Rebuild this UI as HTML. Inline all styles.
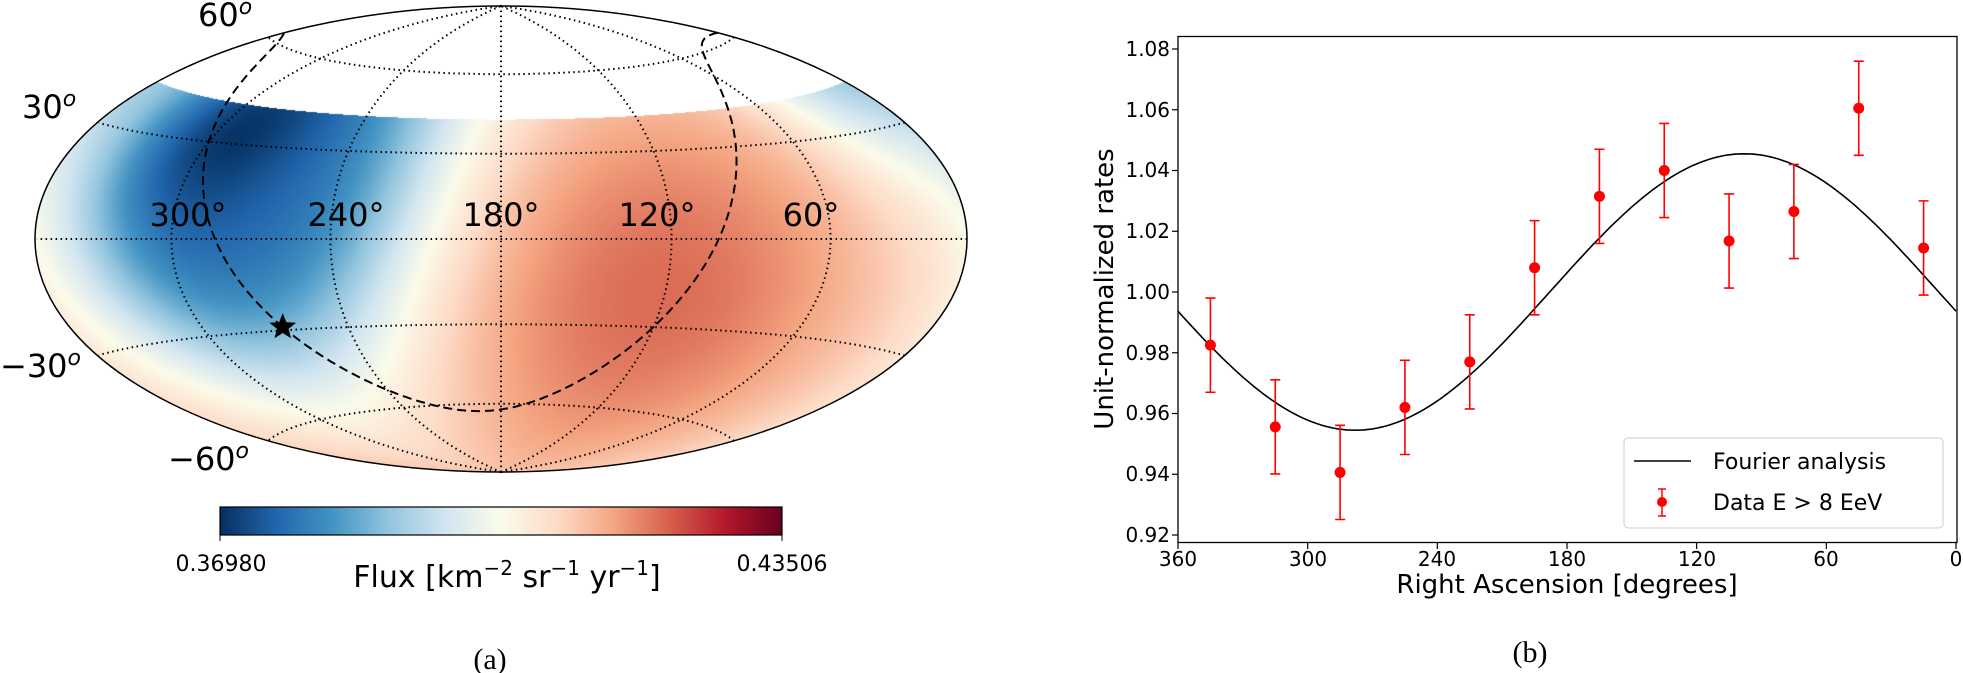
<!DOCTYPE html>
<html><head><meta charset="utf-8"><style>
html,body{margin:0;padding:0;background:#fff;}
#wrap{position:relative;width:1963px;height:673px;overflow:hidden;background:#fff;}
canvas{position:absolute;left:0;top:0;}
svg{position:absolute;left:0;top:0;}
text{font-family:"DejaVu Sans","Liberation Sans",sans-serif;fill:#000;}
</style></head><body><div id="wrap">
<canvas id="cv" width="1000" height="560"></canvas>
<svg id="sv" width="1963" height="673" xmlns="http://www.w3.org/2000/svg">
<defs>
<linearGradient id="cb" x1="0" x2="1" y1="0" y2="0">
<stop offset="0" stop-color="#053061"/><stop offset="0.1" stop-color="#2166ac"/><stop offset="0.2" stop-color="#4393c3"/><stop offset="0.3" stop-color="#92c5de"/><stop offset="0.4" stop-color="#d1e5f0"/><stop offset="0.5" stop-color="#fbfbea"/><stop offset="0.6" stop-color="#fddbc7"/><stop offset="0.7" stop-color="#f4a582"/><stop offset="0.8" stop-color="#d6604d"/><stop offset="0.9" stop-color="#b2182b"/><stop offset="1" stop-color="#67001f"/>
</linearGradient>
</defs>
<g id="mapgrid"></g>
<ellipse cx="501" cy="239" rx="466" ry="233" fill="none" stroke="#000" stroke-width="1.5"/>
<text x="188" y="226" font-size="32" text-anchor="middle">300°</text>
<text x="346" y="226" font-size="32" text-anchor="middle">240°</text>
<text x="501" y="226" font-size="32" text-anchor="middle">180°</text>
<text x="657" y="226" font-size="32" text-anchor="middle">120°</text>
<text x="811" y="226" font-size="32" text-anchor="middle">60°</text>
<text x="198" y="26" font-size="32">60<tspan font-size="22" dy="-12" font-style="italic">o</tspan></text>
<text x="22" y="118" font-size="32">30<tspan font-size="22" dy="-12" font-style="italic">o</tspan></text>
<text x="0" y="377" font-size="32">−30<tspan font-size="22" dy="-12" font-style="italic">o</tspan></text>
<text x="168" y="470" font-size="32">−60<tspan font-size="22" dy="-12" font-style="italic">o</tspan></text>
<rect x="220" y="507" width="562" height="28" fill="url(#cb)" stroke="#000" stroke-width="1.2"/>
<line x1="220" y1="535" x2="220" y2="541" stroke="#000"/><line x1="782" y1="535" x2="782" y2="541" stroke="#000"/>
<text x="221" y="571" font-size="22" text-anchor="middle">0.36980</text>
<text x="782" y="571" font-size="22" text-anchor="middle">0.43506</text>
<text x="507" y="587" font-size="30" text-anchor="middle">Flux [km<tspan font-size="20" dy="-12">−2</tspan><tspan dy="12"> sr</tspan><tspan font-size="20" dy="-12">−1</tspan><tspan dy="12"> yr</tspan><tspan font-size="20" dy="-12">−1</tspan><tspan dy="12">]</tspan></text>
<text x="490" y="669" font-size="30" text-anchor="middle" style="font-family:'Liberation Serif',serif">(a)</text>

<g id="plot"></g>
<rect x="1178" y="36.5" width="779" height="506" fill="none" stroke="#000" stroke-width="1.3"/>
<g font-size="20" text-anchor="end">
<text x="1170" y="56">1.08</text><text x="1170" y="117">1.06</text><text x="1170" y="177">1.04</text><text x="1170" y="238">1.02</text><text x="1170" y="299">1.00</text><text x="1170" y="360">0.98</text><text x="1170" y="420">0.96</text><text x="1170" y="481">0.94</text><text x="1170" y="542">0.92</text>
</g>
<g font-size="20" text-anchor="middle">
<text x="1178" y="566">360</text><text x="1308" y="566">300</text><text x="1437" y="566">240</text><text x="1567" y="566">180</text><text x="1697" y="566">120</text><text x="1826" y="566">60</text><text x="1956" y="566">0</text>
</g>
<text x="1567" y="593" font-size="26" text-anchor="middle">Right Ascension [degrees]</text>
<text transform="translate(1113,289) rotate(-90)" font-size="26" text-anchor="middle">Unit-normalized rates</text>
<text x="1530" y="662" font-size="30" text-anchor="middle" style="font-family:'Liberation Serif',serif">(b)</text>
<rect x="1624" y="438" width="319" height="90" rx="4" fill="#fff" fill-opacity="0.85" stroke="#ccc" stroke-width="1"/>
<line x1="1634" y1="461" x2="1691" y2="461" stroke="#000" stroke-width="1.5"/>
<text x="1713" y="469" font-size="22">Fourier analysis</text>
<line x1="1662" y1="489" x2="1662" y2="516" stroke="#f00" stroke-width="1.5"/>
<line x1="1658" y1="489" x2="1666" y2="489" stroke="#f00" stroke-width="1.5"/>
<line x1="1658" y1="516" x2="1666" y2="516" stroke="#f00" stroke-width="1.5"/>
<circle cx="1662" cy="502" r="5" fill="#f00"/>
<text x="1713" y="510" font-size="22">Data E &gt; 8 EeV</text>
</svg>
<script>
(function(){
var cx=501,cy=239,s=164.8,R2=Math.SQRT2,D=Math.PI/180;
function proj(ra,dec){var l=(ra-180)*D,p=dec*D;var d=Math.sqrt(1+Math.cos(p)*Math.cos(l/2));
return [cx-s*2*R2*Math.cos(p)*Math.sin(l/2)/d, cy-s*R2*Math.sin(p)/d];}
function vec(ra,dec){ra*=D;dec*=D;return [Math.cos(dec)*Math.cos(ra),Math.cos(dec)*Math.sin(ra),Math.sin(dec)];}
function ang(a,b){var c=a[0]*b[0]+a[1]*b[1]+a[2]*b[2];return Math.acos(Math.max(-1,Math.min(1,c)))/D;}
var vr=vec(130,-18),vb=vec(275,20),vd=vec(290,35),vq=vec(20,45);
var stops=[[5,48,97],[33,102,172],[67,147,195],[146,197,222],[209,229,240],[251,251,234],[253,219,199],[244,165,130],[214,96,77],[178,24,43],[103,0,31]];
function cmap(t){t=Math.max(0,Math.min(1,t))*10;var i=Math.min(9,Math.floor(t)),f=t-i,a=stops[i],b=stops[i+1];
return [a[0]+(b[0]-a[0])*f,a[1]+(b[1]-a[1])*f,a[2]+(b[2]-a[2])*f];}
var cv=document.getElementById('cv'),ctx=cv.getContext('2d');
var W=1000,H=560,img=ctx.createImageData(W,H),dt=img.data;
for(var py=0;py<H;py++)for(var px=0;px<W;px++){
 var x=-(px+0.5-cx)/s,y=-(py+0.5-cy)/s;
 if((x*x)/8+(y*y)/2>1)continue;
 var z=Math.sqrt(1-x*x/16-y*y/4);
 var lon=2*Math.atan2(z*x,2*(2*z*z-1)),lat=Math.asin(Math.max(-1,Math.min(1,z*y)));
 var ra=lon/D+180,dec=lat/D;
 var k=(py*W+px)*4;
 if(dec>42.5){dt[k]=255;dt[k+1]=255;dt[k+2]=255;dt[k+3]=255;continue;}
 var v=vec(ra,dec);
 var tb=ang(v,vb),tr=ang(v,vr),td=ang(v,vd),tq=ang(v,vq);
 var w=1/(1+Math.pow(tb/65,4));
 var t=0.62-0.5*w-0.12*Math.exp(-td*td/800)-0.15*Math.exp(-tq*tq/800)+0.18*Math.exp(-tr*tr/6500);
 var c=cmap(t);dt[k]=c[0];dt[k+1]=c[1];dt[k+2]=c[2];dt[k+3]=255;}
ctx.putImageData(img,0,0);
var NS='http://www.w3.org/2000/svg';
function path(g,d,attrs){var p=document.createElementNS(NS,'path');p.setAttribute('d',d);for(var a in attrs)p.setAttribute(a,attrs[a]);g.appendChild(p);}
var g=document.getElementById('mapgrid');
var dot={fill:'none',stroke:'#000','stroke-width':'2','stroke-dasharray':'1.5 3.5'};
[60,120,180,240,300].forEach(function(ra){var d='';for(var dec=-90;dec<=90;dec+=1){var p=proj(ra,dec);d+=(dec==-90?'M':'L')+p[0].toFixed(1)+' '+p[1].toFixed(1);}path(g,d,dot);});
[-60,-30,0,30,60].forEach(function(dec){var d='';for(var ra=0.01;ra<=359.99;ra+=1){var p=proj(ra,dec);d+=(d?'L':'M')+p[0].toFixed(1)+' '+p[1].toFixed(1);}path(g,d,dot);});
var aN=192.859*D,dN=27.128*D,lN=122.932*D,d2='',px0=null;
for(var l=0;l<=360;l+=0.5){var lr=l*D;var sd=Math.cos(dN)*Math.cos(lN-lr);var dec=Math.asin(sd);
 var ra=aN+Math.atan2(Math.sin(lN-lr),-Math.sin(dN)*Math.cos(lN-lr));ra=((ra/D)%360+360)%360;
 var p=proj(ra,dec/D);var cmd=(px0===null||Math.abs(p[0]-px0)>200)?'M':'L';d2+=cmd+p[0].toFixed(1)+' '+p[1].toFixed(1);px0=p[0];}
path(g,d2,{fill:'none',stroke:'#000','stroke-width':'2','stroke-dasharray':'9 5'});
var st=proj(266.4,-28.9);path(g,(function(){var d='';for(var i=0;i<10;i++){var r=i%2?6:14,a=-Math.PI/2+i*Math.PI/5;d+=(i?'L':'M')+(st[0]+r*Math.cos(a)).toFixed(1)+' '+(st[1]+r*Math.sin(a)).toFixed(1);}return d+'Z';})(),{fill:'#000'});
var gp=document.getElementById('plot');
function X(ra){return 1178+(360-ra)*778/360;}function Y(v){return 535-(v-0.92)*3037.5;}
[1.08,1.06,1.04,1.02,1.0,0.98,0.96,0.94,0.92].forEach(function(v){path(gp,'M1172 '+Y(v)+'H1178',{stroke:'#000','stroke-width':'1.2'});});
[360,300,240,180,120,60,0].forEach(function(r){path(gp,'M'+X(r)+' 542.5V549',{stroke:'#000','stroke-width':'1.2'});});
var d='';for(var r=360;r>=0;r-=2){d+=(r==360?'M':'L')+X(r).toFixed(1)+' '+Y(1+0.0455*Math.cos((r-98)*D)).toFixed(1);}
path(gp,d,{fill:'none',stroke:'#000','stroke-width':'1.6'});
var pts=[[345,0.9825],[315,0.9556],[285,0.9406],[255,0.962],[225,0.977],[195,1.008],[165,1.0315],[135,1.040],[105,1.0168],[75,1.0265],[45,1.0605],[15,1.0145]];
pts.forEach(function(q){var x=X(q[0]),y=Y(q[1]),e=0.0155*3037.5;
 path(gp,'M'+x+' '+(y-e)+'V'+(y+e)+'M'+(x-5)+' '+(y-e)+'H'+(x+5)+'M'+(x-5)+' '+(y+e)+'H'+(x+5),{stroke:'#f00','stroke-width':'1.6'});
 var c=document.createElementNS(NS,'circle');c.setAttribute('cx',x);c.setAttribute('cy',y);c.setAttribute('r',5.5);c.setAttribute('fill','#f00');gp.appendChild(c);});
})();
</script>
</div></body></html>
